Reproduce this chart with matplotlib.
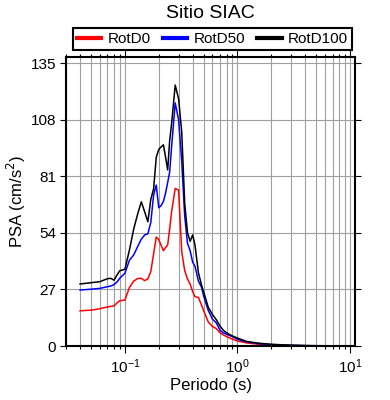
import matplotlib
matplotlib.use("Agg")
import matplotlib.pyplot as plt
from matplotlib.ticker import LogLocator, FixedLocator, NullFormatter

plt.rcParams['font.family'] = ['Liberation Sans', 'DejaVu Sans']

title = "Sitio SIAC"
xlabel = "Periodo (s)"
ylabel = "PSA (cm/s$^2$)"
series_names = ["RotD0", "RotD50", "RotD100"]
series_colors = ["#ff0000", "#0000ff", "#000000"]

periods = [0.04, 0.05, 0.06, 0.07, 0.075, 0.08, 0.085, 0.09, 0.1, 0.11, 0.12, 0.13,
           0.14, 0.15, 0.16, 0.17, 0.18, 0.19, 0.2, 0.21, 0.22, 0.23, 0.24, 0.25,
           0.26, 0.28, 0.3, 0.32, 0.34, 0.36, 0.38, 0.4, 0.42, 0.45, 0.48, 0.5,
           0.55, 0.6, 0.65, 0.7, 0.75, 0.8, 0.9, 1.0, 1.2, 1.5, 2, 3, 4, 5, 7, 10]

rotd0 = [16.8, 17.1, 17.8, 18.6, 18.9, 19.1, 20.5, 21.6, 21.9, 28.0, 31.0, 32.2,
         32.3, 31.2, 32.0, 35.5, 44.0, 52.0, 50.8, 48.0, 45.5, 47.0, 48.2, 56.0,
         64.0, 75.2, 74.4, 45.0, 36.0, 32.0, 29.5, 26.0, 23.5, 23.2, 19.5, 17.0,
         11.5, 9.3, 8.3, 6.3, 5.3, 4.5, 3.3, 2.4, 1.5, 0.9, 0.5, 0.2, 0.12, 0.08, 0.05, 0.03]

rotd50 = [26.7, 27.1, 27.5, 28.3, 28.6, 29.3, 30.5, 32.3, 34.7, 41.0, 43.5, 47.5,
          51.0, 53.0, 53.5, 59.0, 72.0, 76.8, 66.0, 67.0, 69.0, 73.0, 78.0, 83.0,
          95.0, 116.0, 108.0, 88.0, 62.0, 49.0, 45.5, 40.0, 38.0, 31.0, 28.0, 24.0,
          17.0, 12.8, 11.0, 7.5, 6.3, 5.6, 4.5, 3.2, 2.0, 1.2, 0.7, 0.3, 0.18, 0.12, 0.07, 0.04]

rotd100 = [29.6, 30.2, 30.7, 32.1, 32.3, 31.4, 33.8, 35.9, 36.6, 46.0, 56.0, 63.0,
           68.8, 64.0, 59.3, 70.0, 75.0, 90.0, 93.8, 95.0, 96.0, 90.0, 84.0, 98.0,
           106.0, 124.5, 118.0, 102.0, 68.0, 54.0, 50.0, 53.0, 48.0, 35.0, 29.0, 26.0,
           18.5, 15.0, 12.5, 9.5, 7.5, 6.3, 4.8, 3.8, 2.2, 1.4, 0.8, 0.4, 0.22, 0.15, 0.09, 0.05]

yticks = [0, 27, 54, 81, 108, 135]

fig = plt.figure(figsize=(3.9, 4.0), dpi=100)
ax = fig.add_axes([66/390, 54/400, 289/390, 289/400])

for vals, name, col in zip([rotd0, rotd50, rotd100], series_names, series_colors):
    ax.plot(periods, vals, color=col, lw=1.1, label=name)

ax.set_xscale('log')
ax.set_xlim(0.03, 11.07)
ax.set_ylim(0, 137.9)
ax.yaxis.set_major_locator(FixedLocator(yticks))
ax.xaxis.set_major_locator(LogLocator(base=10, numticks=10))
ax.xaxis.set_minor_locator(LogLocator(base=10, subs=range(2, 10), numticks=20))
ax.xaxis.set_minor_formatter(NullFormatter())

ax.grid(True, which='major', axis='both', color='#a0a0a0', lw=0.8)
ax.grid(True, which='minor', axis='x', color='#a0a0a0', lw=0.8)
ax.set_axisbelow(True)

for s in ax.spines.values():
    s.set_linewidth(1.5)

ax.tick_params(axis='both', which='major', direction='out', length=4, width=0.8,
               labelsize=11, top=True, right=True, colors='black')
ax.tick_params(axis='x', which='minor', direction='out', length=2.5, width=0.8,
               top=True, bottom=True)
ax.tick_params(axis='x', which='major', length=5)
ax.tick_params(axis='y', which='major', pad=3)
ax.tick_params(axis='x', which='major', pad=3)

ax.set_xlabel(xlabel, fontsize=12, labelpad=2)
ax.set_ylabel(ylabel, fontsize=12, labelpad=2)
fig.text(210/390, 1 - 13/400, title, ha='center', va='center', fontsize=14)

leg = fig.legend(loc='lower left', bbox_to_anchor=(73/390, 350/400, 279/390, 22/400),
                 mode='expand', ncol=3, fontsize=11, handlelength=1.6,
                 handletextpad=0.4, borderaxespad=0, borderpad=0.25,
                 columnspacing=0.8, fancybox=False, framealpha=1, edgecolor='black')
leg.get_frame().set_linewidth(1.5)
for h in leg.legend_handles:
    h.set_linewidth(3)

fig.savefig('out.png', dpi=100)
